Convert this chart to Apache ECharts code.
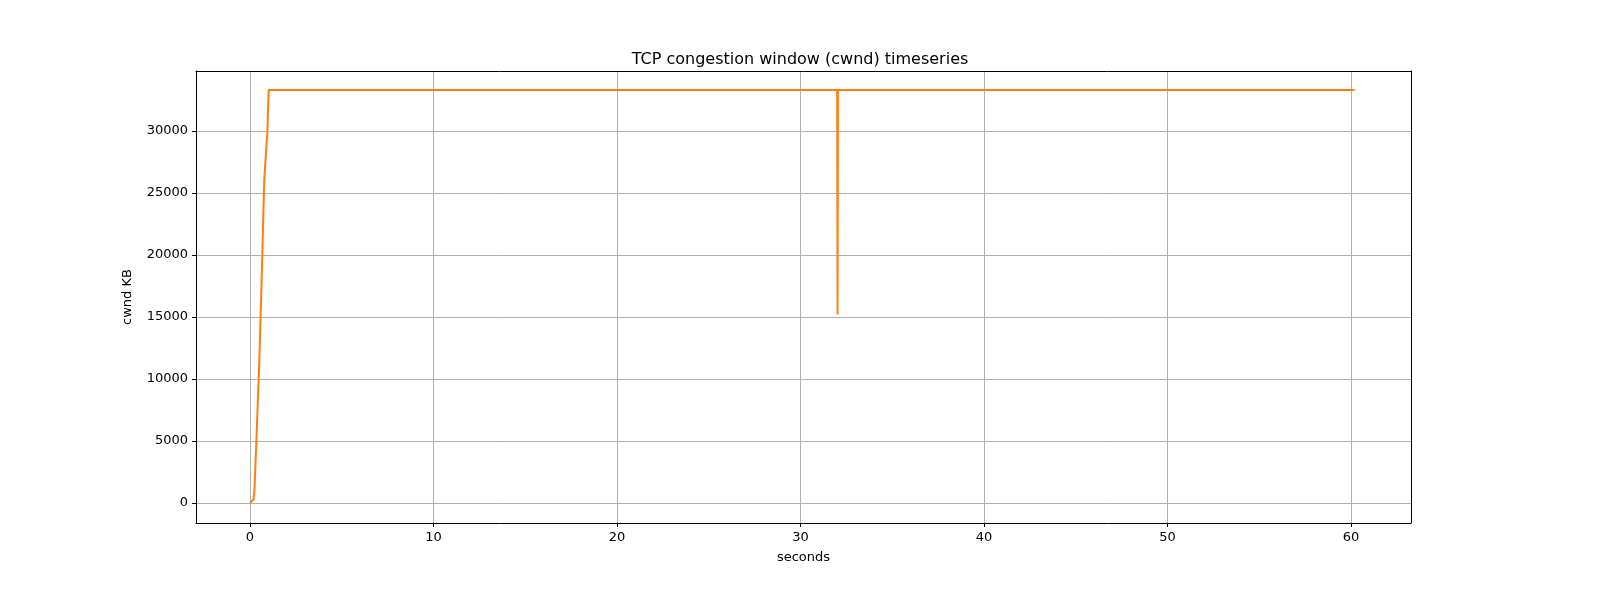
<!DOCTYPE html><html><head><meta charset="utf-8"><script src="https://cdn.jsdelivr.net/npm/echarts@6/dist/echarts.min.js"></script></head><body style="margin:0"><div id="c" style="width:1600px;height:600px"></div><script>
const seconds=[0,0.1,0.2,0.25,0.35,0.5,0.62,0.72,0.78,0.88,0.95,1.02,32.0,32.02,32.04,60.2];
const cwnd=[0,0,300,1200,5000,11000,17000,22700,26100,26100,30000,33300,33300,15200,33300,33300];
const xTicks=[0,10,20,30,40,50,60];
const yTicks=[0,5000,10000,15000,20000,25000,30000];
const ch=echarts.init(document.getElementById('c'));
const f='DejaVu Sans';
const axBase={axisLine:{show:true,onZero:false,lineStyle:{color:'#000'}},axisTick:{show:true,inside:false,length:4,lineStyle:{color:'#000'}},axisLabel:{color:'#000',fontFamily:f,fontSize:13,formatter:v=>String(v)},nameTextStyle:{color:'#000',fontFamily:f,fontSize:13}};
const frame={type:'value',axisLine:{show:true,onZero:false,lineStyle:{color:'#000'}},axisTick:{show:false},axisLabel:{show:false},splitLine:{show:false}};
ch.setOption({animation:false,
title:{text:'TCP congestion window (cwnd) timeseries',left:'center',top:47,textStyle:{fontFamily:f,fontWeight:'normal',fontSize:16,color:'#000'}},
grid:{left:196,right:189,top:71,bottom:77,containLabel:false,outerBoundsMode:'none'},
xAxis:[Object.assign({},axBase,{type:'value',min:-2.94,max:63.27,name:'seconds',nameLocation:'middle',nameGap:28,
 axisTick:Object.assign({},axBase.axisTick,{customValues:xTicks}),axisLabel:Object.assign({},axBase.axisLabel,{customValues:xTicks}),
 splitLine:{show:true,lineStyle:{color:'#b0b0b0'}}}),
 Object.assign({},frame,{position:'top',min:-2.94,max:63.27})],
yAxis:[Object.assign({},axBase,{type:'value',min:-1613,max:34839,name:'cwnd KB',nameLocation:'middle',nameGap:62,
 axisTick:Object.assign({},axBase.axisTick,{customValues:yTicks}),axisLabel:Object.assign({},axBase.axisLabel,{customValues:yTicks}),
 splitLine:{show:true,lineStyle:{color:'#b0b0b0'}}}),
 Object.assign({},frame,{position:'right',min:-1613,max:34839})],
series:[{type:'line',data:seconds.map((s,i)=>[s,cwnd[i]]),showSymbol:false,lineStyle:{color:'#ff7f0e',width:2},itemStyle:{color:'#ff7f0e'}}]
});
</script></body></html>
